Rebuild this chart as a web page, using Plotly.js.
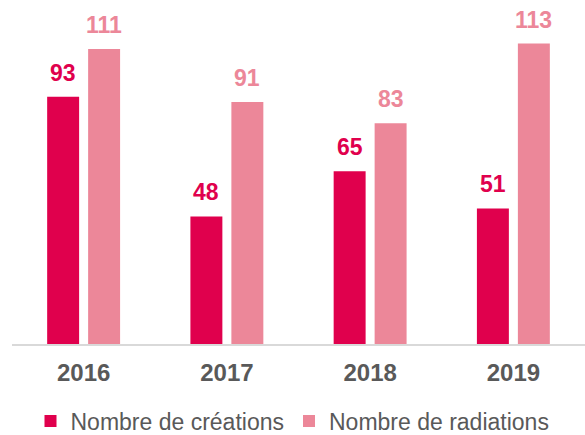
<!DOCTYPE html>
<html>
<head>
<meta charset="utf-8">
<script src="https://cdn.plot.ly/plotly-3.0.1.min.js"></script>
<style>html,body{margin:0;padding:0;background:#fff;}#chart{width:585px;height:435px;}</style>
</head>
<body>
<div id="chart"></div>
<script>
const years = ['2016', '2017', '2018', '2019'];
const creations = [93, 48, 65, 51];
const radiations = [111, 91, 83, 113];
const seriesNames = ['Nombre de créations', 'Nombre de radiations'];
const colors = ['#E0004D', '#EC8799'];

const FONT = 'Liberation Sans, Arial, sans-serif';

const traces = [
  {type: 'bar', x: years, y: creations, name: seriesNames[0], marker: {color: colors[0]}, hoverinfo: 'none'},
  {type: 'bar', x: years, y: radiations, name: seriesNames[1], marker: {color: colors[1]}, hoverinfo: 'none'}
];

const annotations = [];
[creations, radiations].forEach((vals, si) => {
  vals.forEach((v, i) => {
    annotations.push({
      x: i, y: v, xref: 'x', yref: 'y',
      text: String(v), showarrow: false,
      xshift: si === 0 ? -20.5 : 20.5, yshift: 9, yanchor: 'bottom',
      font: {family: FONT, size: 23, color: colors[si], weight: 'bold'}
    });
  });
});

const layout = {
  width: 585, height: 435,
  margin: {l: 12, r: 0, t: 25, b: 91},
  paper_bgcolor: '#fff', plot_bgcolor: '#fff',
  barmode: 'group', bargap: 0.428, bargroupgap: 0.22,
  showlegend: true,
  legend: {orientation: 'h', x: 0.5, xanchor: 'center', xref: 'container', y: 0.032, yanchor: 'middle', yref: 'container',
    font: {family: FONT, size: 23, color: '#595959'}, itemwidth: 30, traceorder: 'normal'},
  xaxis: {type: 'category', range: [-0.5, 3.5], autorange: false, showline: true, linecolor: '#D9D9D9', linewidth: 1.5,
    ticks: '', ticklabelstandoff: 7, showgrid: false, automargin: false,
    tickfont: {family: FONT, size: 24, color: '#595959', weight: 'bold'}},
  yaxis: {range: [0, 120], autorange: false, visible: false, showgrid: false, zeroline: false},
  annotations: annotations
};

Plotly.newPlot('chart', traces, layout, {displayModeBar: false, staticPlot: true});
</script>
</body>
</html>
